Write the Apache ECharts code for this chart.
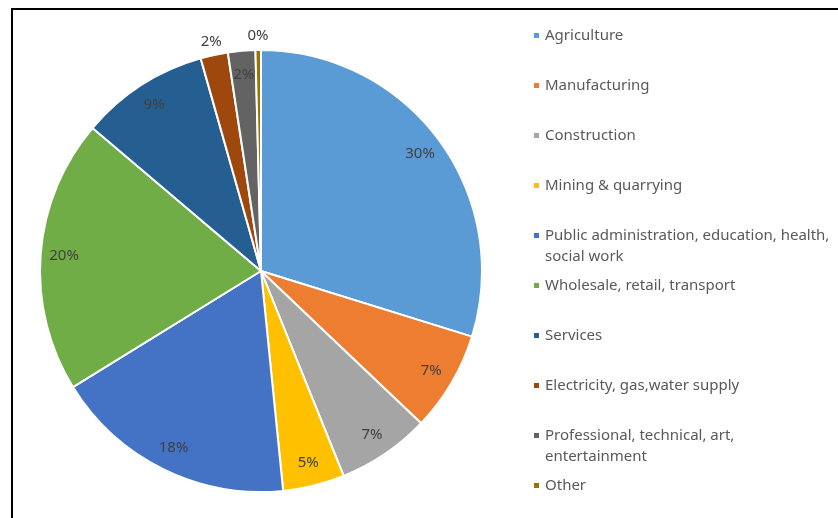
<!DOCTYPE html>
<html>
<head>
<meta charset="utf-8">
<script src="https://cdn.jsdelivr.net/npm/echarts@6/dist/echarts.min.js"></script>
<style>
html,body{margin:0;padding:0;background:#fff;}
#chart{width:838px;height:518px;}
</style>
</head>
<body>
<div id="chart"></div>
<script>
const categories = [
  'Agriculture',
  'Manufacturing',
  'Construction',
  'Mining & quarrying',
  'Public administration, education, health, social work',
  'Wholesale, retail, transport',
  'Services',
  'Electricity, gas,water supply',
  'Professional, technical, art, entertainment',
  'Other'
];
const legendText = [
  'Agriculture',
  'Manufacturing',
  'Construction',
  'Mining & quarrying',
  'Public administration, education, health,\nsocial work',
  'Wholesale, retail, transport',
  'Services',
  'Electricity, gas,water supply',
  'Professional, technical, art,\nentertainment',
  'Other'
];
const shares = [29.8, 7.3, 6.8, 4.5, 17.8, 20.0, 9.4, 2.0, 2.0, 0.4];
const colors = ['#5B9BD5', '#ED7D31', '#A5A5A5', '#FFC000', '#4472C4', '#70AD47', '#255E91', '#9E480E', '#636363', '#997300'];
const outsideLabelled = ['Electricity, gas,water supply', 'Other'];

const CX = 261, CY = 271, R = 221;
const FONT = 'Noto Sans';

const chart = echarts.init(document.getElementById('chart'), null, {renderer: 'canvas'});

const mainData = categories.map((c, i) => ({name: c, value: shares[i], itemStyle: {color: colors[i]}}));
const pctFmt = p => Math.round(p.value) + '%';

const innerLabelData = categories.map((c, i) => ({
  name: c, value: shares[i],
  label: {show: outsideLabelled.indexOf(c) < 0}
}));
const outerLabelData = categories.map((c, i) => ({
  name: c, value: shares[i],
  label: {show: outsideLabelled.indexOf(c) >= 0}
}));

const labelStyle = {
  position: 'inside', formatter: pctFmt, color: '#404040',
  fontFamily: FONT, fontSize: 15
};

const legendMap = {};
categories.forEach((c, i) => { legendMap[c] = legendText[i]; });

chart.setOption({
  animation: false,
  color: colors,
  graphic: [{
    type: 'rect', silent: true, z: 100,
    shape: {x: 12, y: 9, width: 1000, height: 1000},
    style: {fill: 'none', stroke: '#000', lineWidth: 2}
  }],
  legend: {
    orient: 'vertical',
    left: 532, top: 4,
    height: 1000,
    padding: 0,
    itemGap: -13,
    itemWidth: 7, itemHeight: 7,
    icon: 'rect',
    selectedMode: false,
    data: categories,
    formatter: name => {
      const t = legendMap[name];
      return ' \n' + (t.indexOf('\n') >= 0 ? t : t + '\n ');
    },
    textStyle: {
      color: '#595959', fontFamily: FONT, fontSize: 15,
      lineHeight: 21
    }
  },
  series: [
    {
      type: 'pie', name: 'main',
      center: [CX, CY], radius: [0, R],
      startAngle: 90, clockwise: true,
      avoidLabelOverlap: false,
      label: {show: false}, labelLine: {show: false},
      itemStyle: {borderColor: '#fff', borderWidth: 2},
      emphasis: {disabled: true},
      data: mainData
    },
    {
      type: 'pie', name: 'innerLabels', silent: true,
      center: [CX, CY], radius: [R * 0.76, R],
      startAngle: 90, clockwise: true,
      avoidLabelOverlap: false,
      itemStyle: {color: 'rgba(0,0,0,0)'},
      label: labelStyle, labelLine: {show: false},
      emphasis: {disabled: true},
      legendHoverLink: false,
      data: innerLabelData
    },
    {
      type: 'pie', name: 'outerLabels', silent: true,
      center: [CX, CY], radius: [R, R + 22],
      startAngle: 90, clockwise: true,
      avoidLabelOverlap: false,
      itemStyle: {color: 'rgba(0,0,0,0)'},
      label: labelStyle, labelLine: {show: false},
      emphasis: {disabled: true},
      legendHoverLink: false,
      data: outerLabelData
    }
  ]
});
</script>
</body>
</html>
